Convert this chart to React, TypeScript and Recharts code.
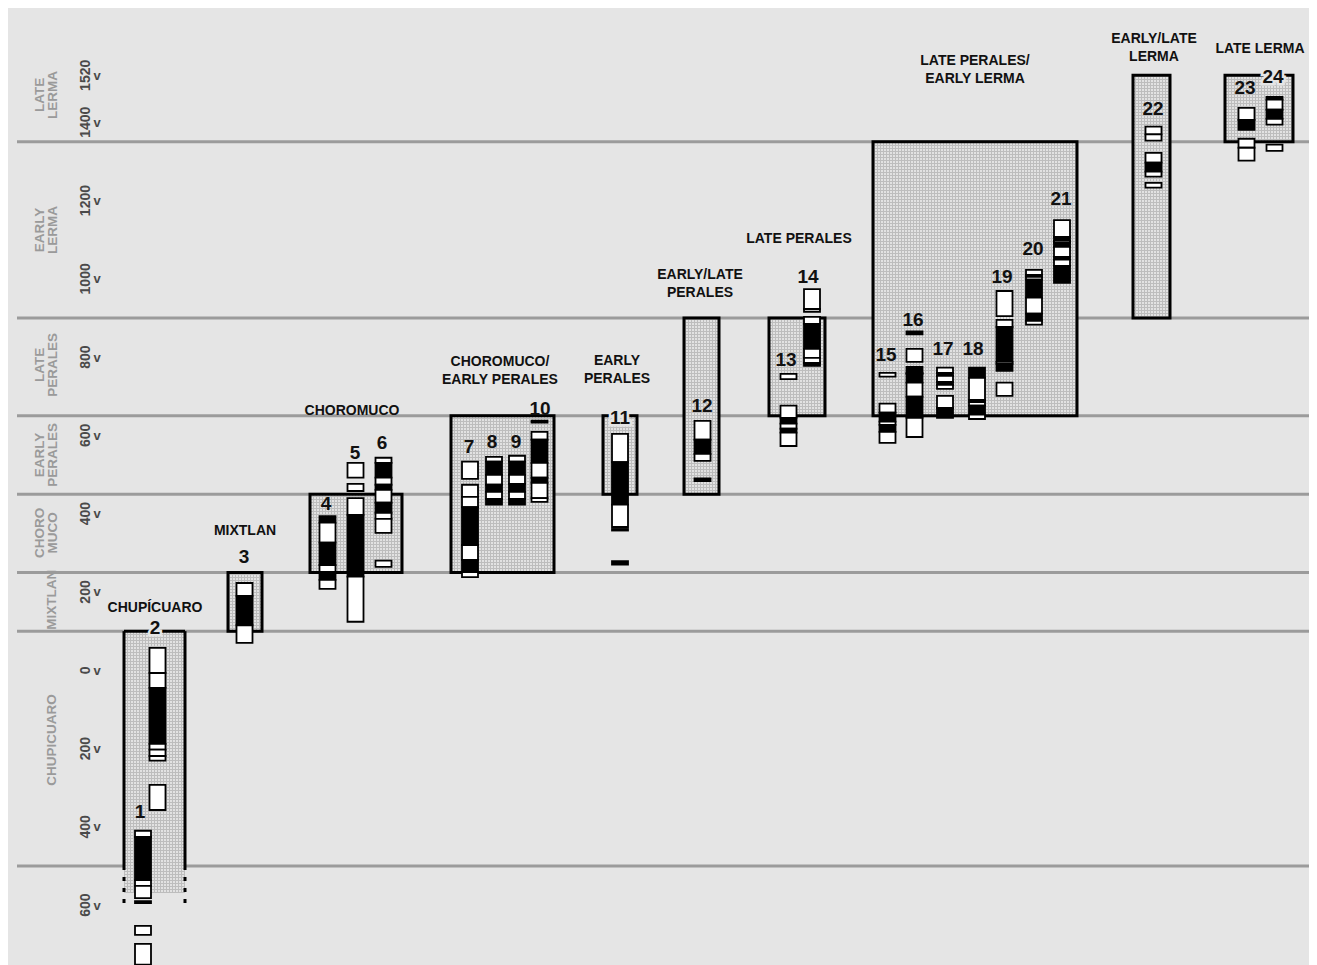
import React from 'react';
import { ComposedChart, XAxis, YAxis, ReferenceArea, ReferenceLine, Scatter } from 'recharts';

const CHART_W = 1309;
const CHART_H = 957;
const X_DOMAIN: [number, number] = [8, 1317];
const Y_DOMAIN: [number, number] = [-753, 1692];
const FONT = 'Liberation Sans, Arial, Helvetica, sans-serif';
const BG = '#e5e5e5';
const COL_W = 16;

// Year axis (negative = BC)
const tickYears = [-600, -400, -200, 0, 200, 400, 600, 800, 1000, 1200, 1400, 1520];
const phaseBoundaries = [1350, 900, 650, 450, 250, 100, -500];

const periodLabels = [
  { lines: ['LATE', 'LERMA'], x: 46, y: 1470 },
  { lines: ['EARLY', 'LERMA'], x: 46, y: 1125 },
  { lines: ['LATE', 'PERALES'], x: 46, y: 780 },
  { lines: ['EARLY', 'PERALES'], x: 46, y: 550 },
  { lines: ['CHORO', 'MUCO'], x: 46, y: 351 },
  { lines: ['MIXTLAN'], x: 51, y: 180 },
  { lines: ['CHUPICUARO'], x: 51, y: -178 },
];

// Phase boxes: horizontal extent (position units) and year span
const phaseBoxes = [
  { x1: 124, x2: 185, top: 100, bottom: -569, open: true },
  { x1: 228, x2: 262, top: 250, bottom: 100 },
  { x1: 310, x2: 402, top: 450, bottom: 250 },
  { x1: 451, x2: 554, top: 650, bottom: 250 },
  { x1: 603, x2: 637, top: 650, bottom: 450 },
  { x1: 684, x2: 719, top: 900, bottom: 450 },
  { x1: 769, x2: 825, top: 900, bottom: 650 },
  { x1: 873, x2: 1077, top: 1350, bottom: 650 },
  { x1: 1133, x2: 1170, top: 1520, bottom: 900 },
  { x1: 1225, x2: 1293, top: 1520, bottom: 1350 },
];

const phaseBoxLabels = [
  { lines: ['CHUPÍCUARO'], x: 155, y: 162 },
  { lines: ['MIXTLAN'], x: 245, y: 359 },
  { lines: ['CHOROMUCO'], x: 352, y: 665 },
  { lines: ['CHOROMUCO/', 'EARLY PERALES'], x: 500, y: 768 },
  { lines: ['EARLY', 'PERALES'], x: 617, y: 770 },
  { lines: ['EARLY/LATE', 'PERALES'], x: 700, y: 990 },
  { lines: ['LATE PERALES'], x: 799, y: 1104 },
  { lines: ['LATE PERALES/', 'EARLY LERMA'], x: 975, y: 1537 },
  { lines: ['EARLY/LATE', 'LERMA'], x: 1154, y: 1593 },
  { lines: ['LATE LERMA'], x: 1260, y: 1590 },
];

// Samples
const sampleIds = [1, 2, 3, 4, 5, 6, 7, 8, 9, 10, 11, 12, 13, 14, 15, 16, 17, 18, 19, 20, 21, 22, 23, 24];
const sampleX = [143, 157.5, 244.5, 327.5, 355.5, 383.5, 470, 494, 517, 539.5, 620, 702.5, 788.5, 812, 887.5, 914.5, 945, 977, 1004.5, 1034, 1062, 1153.5, 1246.5, 1274.5];
const sampleLabelX = [140, 155, 244, 326, 355, 382, 469, 492, 516, 540, 620, 702, 786, 808, 886, 913, 943, 973, 1002, 1033, 1061, 1153, 1245, 1273];
const sampleLabelY = [-362, 108, 290, 425, 556, 581, 571, 584, 584, 668, 645, 676, 793, 1005, 806, 895, 821, 821, 1005, 1077, 1205, 1435, 1488, 1516];
const labelsOnEdge = [2, 11, 24];

type Seg = [number, number, 'w' | 'b'];
// [top year, bottom year, fill] – calibrated ranges
const sampleSegments: Seg[][] = [
  [[-410, -426, 'w'], [-426, -536, 'b'], [-536, -551, 'w'], [-551, -582, 'w'], [-590, -595, 'b'], [-653, -676, 'w'], [-699, -752, 'w']],
  [[57, -7, 'w'], [-7, -45, 'w'], [-45, -188, 'b'], [-188, -203, 'w'], [-203, -219, 'w'], [-219, -231, 'w'], [-293, -357, 'w']],
  [[223, 190, 'w'], [190, 115, 'b'], [115, 70, 'w']],
  [[394, 377, 'b'], [377, 326, 'w'], [326, 269, 'b'], [269, 251, 'w'], [251, 231, 'b'], [231, 208, 'w']],
  [[530, 492, 'w'], [476, 458, 'w'], [440, 397, 'w'], [397, 239, 'b'], [239, 124, 'w']],
  [[543, 530, 'w'], [530, 492, 'b'], [492, 474, 'w'], [474, 461, 'b'], [461, 428, 'w'], [428, 402, 'b'], [402, 387, 'w'], [387, 351, 'w'], [280, 264, 'w']],
  [[533, 489, 'w'], [474, 443, 'w'], [443, 417, 'w'], [417, 320, 'b'], [320, 282, 'w'], [282, 251, 'b'], [251, 238, 'w']],
  [[545, 533, 'w'], [533, 499, 'b'], [499, 474, 'w'], [474, 456, 'b'], [456, 438, 'w'], [438, 423, 'b']],
  [[548, 533, 'w'], [533, 499, 'b'], [499, 476, 'w'], [476, 456, 'b'], [456, 438, 'w'], [438, 423, 'b']],
  [[638, 633, 'b'], [609, 589, 'w'], [589, 530, 'b'], [530, 492, 'w'], [492, 479, 'b'], [479, 440, 'w'], [440, 430, 'w']],
  [[604, 532, 'w'], [532, 423, 'b'], [423, 366, 'w'], [361, 357, 'b'], [279, 270, 'b']],
  [[637, 589, 'w'], [589, 553, 'b'], [553, 535, 'w'], [490, 483, 'b']],
  [[757, 744, 'w'], [676, 645, 'w'], [645, 630, 'b'], [630, 617, 'w'], [617, 607, 'b'], [607, 573, 'w']],
  [[974, 923, 'w'], [923, 916, 'w'], [903, 885, 'w'], [885, 821, 'b'], [821, 798, 'w'], [798, 785, 'w'], [785, 778, 'b']],
  [[760, 750, 'w'], [681, 658, 'w'], [658, 635, 'b'], [635, 627, 'w'], [627, 609, 'b'], [609, 581, 'w']],
  [[866, 858, 'b'], [821, 788, 'w'], [775, 760, 'b'], [760, 757, 'w'], [757, 735, 'b'], [735, 699, 'w'], [699, 645, 'b'], [645, 596, 'w']],
  [[773, 760, 'w'], [760, 752, 'b'], [752, 737, 'w'], [737, 729, 'b'], [729, 719, 'w'], [701, 670, 'w'], [670, 645, 'b']],
  [[773, 747, 'b'], [747, 691, 'w'], [691, 685, 'b'], [685, 676, 'w'], [676, 653, 'b'], [653, 642, 'w']],
  [[969, 905, 'w'], [895, 877, 'w'], [877, 788, 'b'], [788, 783, 'w'], [783, 765, 'b'], [735, 701, 'w']],
  [[1023, 1010, 'w'], [1010, 1005, 'b'], [1005, 998, 'w'], [998, 952, 'b'], [952, 911, 'w'], [911, 893, 'b'], [893, 883, 'w']],
  [[1150, 1107, 'w'], [1107, 1097, 'b'], [1097, 1092, 'w'], [1092, 1082, 'b'], [1082, 1056, 'w'], [1056, 1049, 'b'], [1049, 1033, 'w'], [1033, 990, 'b']],
  [[1389, 1369, 'w'], [1369, 1353, 'w'], [1322, 1297, 'w'], [1297, 1274, 'b'], [1274, 1261, 'w'], [1245, 1233, 'w']],
  [[1437, 1406, 'w'], [1406, 1381, 'b'], [1358, 1335, 'w'], [1335, 1302, 'w']],
  [[1465, 1458, 'b'], [1458, 1432, 'w'], [1432, 1409, 'b'], [1409, 1394, 'w'], [1343, 1327, 'w']],
];

const periodLabelData = periodLabels.map((p) => ({ x: p.x, y: p.y, lines: p.lines }));
const boxLabelData = phaseBoxLabels.map((p) => ({ x: p.x, y: p.y, lines: p.lines }));
const sampleLabelData = sampleIds.map((id, i) => ({ x: sampleLabelX[i], y: sampleLabelY[i], id }));

const YTick = (props: any) => {
  const { y, payload } = props;
  const v = Math.abs(payload.value);
  return (
    <g>
      <text
        transform={`translate(77, ${y}) rotate(-90)`}
        textAnchor="middle"
        dominantBaseline="central"
        fontSize={14}
        fontWeight="bold"
        fill="#4a4a4a"
        fontFamily={FONT}
      >
        {v}
      </text>
      <text x={89} y={y} textAnchor="middle" dominantBaseline="central" fontSize={13} fontWeight="bold" fill="#4a4a4a" fontFamily={FONT}>
        v
      </text>
    </g>
  );
};

const PeriodLabel = (props: any) => {
  const { cx, cy, payload } = props;
  const n = payload.lines.length;
  return (
    <g>
      {payload.lines.map((l: string, i: number) => {
        const lx = cx + (i - (n - 1) / 2) * 13;
        return (
          <text
            key={i}
            transform={`translate(${lx}, ${cy}) rotate(-90)`}
            textAnchor="middle"
            dominantBaseline="central"
            fontSize={13.5}
            fontWeight="bold"
            fill="#9a9a9a"
            fontFamily={FONT}
          >
            {l}
          </text>
        );
      })}
    </g>
  );
};

const BoxLabel = (props: any) => {
  const { cx, cy, payload } = props;
  const n = payload.lines.length;
  return (
    <g>
      {payload.lines.map((l: string, i: number) => (
        <text
          key={i}
          x={cx}
          y={cy + (i - (n - 1) / 2) * 18}
          textAnchor="middle"
          dominantBaseline="central"
          fontSize={14}
          fontWeight="bold"
          fill="#111"
          fontFamily={FONT}
        >
          {l}
        </text>
      ))}
    </g>
  );
};

const SampleLabel = (props: any) => {
  const { cx, cy, payload } = props;
  const halo = labelsOnEdge.includes(payload.id);
  return (
    <text
      x={cx}
      y={cy}
      textAnchor="middle"
      dominantBaseline="central"
      fontSize={19}
      fontWeight="bold"
      fill="#111"
      fontFamily={FONT}
      stroke={halo ? BG : 'none'}
      strokeWidth={halo ? 5 : 0}
      paintOrder="stroke"
    >
      {payload.id}
    </text>
  );
};

export default function App() {
  return (
    <div style={{ width: CHART_W, height: CHART_H, background: BG }}>
      <ComposedChart width={CHART_W} height={CHART_H} margin={{ top: 0, right: 0, bottom: 0, left: 0 }}>
        <defs>
          <pattern id="stipple" width="3" height="3" patternUnits="userSpaceOnUse">
            <rect width="3" height="3" fill="#bdbdbd" />
            <rect width="2" height="2" fill="#e2e2e2" />
          </pattern>
        </defs>
        <XAxis type="number" dataKey="x" domain={X_DOMAIN} hide allowDataOverflow />
        <YAxis
          type="number"
          dataKey="y"
          domain={Y_DOMAIN}
          ticks={tickYears}
          interval={0}
          tick={(p: any) => <YTick {...p} />}
          axisLine={false}
          tickLine={false}
          mirror
          allowDataOverflow
        />

        {phaseBoundaries.map((yr) => (
          <ReferenceLine
            key={`pb${yr}`}
            segment={[{ x: 17, y: yr }, { x: 1317, y: yr }]}
            stroke="#9b9b9b"
            strokeWidth={3}
            ifOverflow="visible"
            zIndex={100}
          />
        ))}

        {phaseBoxes.map((b, i) => (
          <ReferenceArea
            key={`box${i}`}
            x1={b.x1}
            x2={b.x2}
            y1={b.bottom}
            y2={b.top}
            fill="url(#stipple)"
            fillOpacity={1}
            stroke={b.open ? 'none' : '#000'}
            strokeWidth={3}
            ifOverflow="visible"
            zIndex={110}
          />
        ))}

        {phaseBoxes
          .filter((b) => b.open)
          .flatMap((b, i) => [
            <ReferenceLine key={`ot${i}`} segment={[{ x: b.x1, y: b.top }, { x: b.x2, y: b.top }]} stroke="#000" strokeWidth={3} ifOverflow="visible" zIndex={120} />,
            <ReferenceLine key={`ol${i}`} segment={[{ x: b.x1, y: b.top }, { x: b.x1, y: -500 }]} stroke="#000" strokeWidth={3} ifOverflow="visible" zIndex={120} />,
            <ReferenceLine key={`or${i}`} segment={[{ x: b.x2, y: b.top }, { x: b.x2, y: -500 }]} stroke="#000" strokeWidth={3} ifOverflow="visible" zIndex={120} />,
            <ReferenceLine key={`odl${i}`} segment={[{ x: b.x1, y: -500 }, { x: b.x1, y: -600 }]} stroke="#000" strokeWidth={3} strokeDasharray="4 7" ifOverflow="visible" zIndex={120} />,
            <ReferenceLine key={`odr${i}`} segment={[{ x: b.x2, y: -500 }, { x: b.x2, y: -600 }]} stroke="#000" strokeWidth={3} strokeDasharray="4 7" ifOverflow="visible" zIndex={120} />,
          ])}

        {sampleSegments.flatMap((segs, si) =>
          segs.map((s, k) => (
            <ReferenceArea
              key={`s${si}_${k}`}
              x1={sampleX[si] - COL_W / 2}
              x2={sampleX[si] + COL_W / 2}
              y1={s[1]}
              y2={s[0]}
              fill={s[2] === 'w' ? '#ffffff' : '#000000'}
              fillOpacity={1}
              stroke="#000"
              strokeWidth={1.8}
              ifOverflow="visible"
              zIndex={130}
            />
          ))
        )}

        <Scatter data={periodLabelData} shape={(p: any) => <PeriodLabel {...p} />} isAnimationActive={false} zIndex={600} />
        <Scatter data={boxLabelData} shape={(p: any) => <BoxLabel {...p} />} isAnimationActive={false} zIndex={600} />
        <Scatter data={sampleLabelData} shape={(p: any) => <SampleLabel {...p} />} isAnimationActive={false} zIndex={600} />
      </ComposedChart>
    </div>
  );
}
